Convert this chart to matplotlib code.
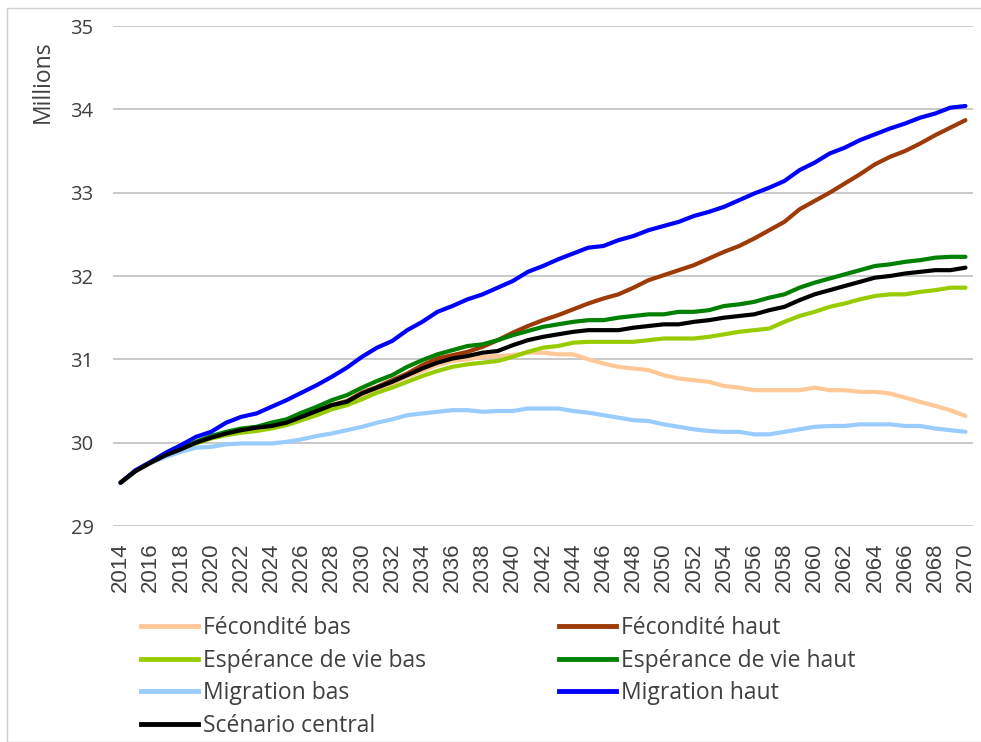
import matplotlib
matplotlib.use("Agg")
import matplotlib.pyplot as plt
from matplotlib.patches import Rectangle
from matplotlib.lines import Line2D

years = list(range(2014, 2071))

fecondite_bas = [29.52, 29.66, 29.76, 29.85, 29.92, 30.00, 30.06, 30.10, 30.14, 30.17,
                 30.19, 30.23, 30.30, 30.37, 30.43, 30.47, 30.57, 30.64, 30.71, 30.79,
                 30.86, 30.93, 30.98, 31.00, 31.03, 31.04, 31.05, 31.08, 31.08, 31.06,
                 31.06, 31.00, 30.95, 30.91, 30.89, 30.87, 30.81, 30.77, 30.75, 30.73,
                 30.68, 30.66, 30.63, 30.63, 30.63, 30.63, 30.66, 30.63, 30.63, 30.61,
                 30.61, 30.59, 30.54, 30.49, 30.44, 30.39, 30.32]
fecondite_haut = [29.52, 29.66, 29.76, 29.85, 29.92, 30.00, 30.06, 30.11, 30.15, 30.18,
                  30.20, 30.24, 30.31, 30.38, 30.45, 30.50, 30.60, 30.67, 30.75, 30.83,
                  30.93, 31.01, 31.05, 31.09, 31.15, 31.23, 31.32, 31.40, 31.47, 31.53,
                  31.60, 31.67, 31.73, 31.78, 31.86, 31.95, 32.01, 32.07, 32.13, 32.21,
                  32.29, 32.36, 32.45, 32.55, 32.65, 32.80, 32.90, 33.00, 33.11, 33.22,
                  33.34, 33.43, 33.50, 33.59, 33.69, 33.78, 33.87]
esperance_bas = [29.52, 29.66, 29.76, 29.84, 29.91, 29.99, 30.05, 30.09, 30.12, 30.14,
                 30.17, 30.21, 30.27, 30.33, 30.40, 30.45, 30.52, 30.60, 30.66, 30.73,
                 30.80, 30.86, 30.91, 30.94, 30.96, 30.98, 31.03, 31.09, 31.14, 31.16,
                 31.20, 31.21, 31.21, 31.21, 31.21, 31.23, 31.25, 31.25, 31.25, 31.27,
                 31.30, 31.33, 31.35, 31.37, 31.45, 31.52, 31.57, 31.63, 31.67, 31.72,
                 31.76, 31.78, 31.78, 31.81, 31.83, 31.86, 31.86]
esperance_haut = [29.52, 29.66, 29.77, 29.86, 29.93, 30.01, 30.08, 30.13, 30.17, 30.19,
                  30.24, 30.28, 30.36, 30.43, 30.51, 30.57, 30.66, 30.74, 30.81, 30.91,
                  30.99, 31.06, 31.11, 31.16, 31.18, 31.23, 31.29, 31.34, 31.39, 31.42,
                  31.45, 31.47, 31.47, 31.50, 31.52, 31.54, 31.54, 31.57, 31.57, 31.59,
                  31.64, 31.66, 31.69, 31.74, 31.78, 31.86, 31.92, 31.97, 32.02, 32.07,
                  32.12, 32.14, 32.17, 32.19, 32.22, 32.23, 32.23]
migration_bas = [29.52, 29.66, 29.76, 29.83, 29.89, 29.94, 29.95, 29.98, 29.99, 29.99,
                 29.99, 30.01, 30.04, 30.08, 30.11, 30.15, 30.19, 30.24, 30.28, 30.33,
                 30.35, 30.37, 30.39, 30.39, 30.37, 30.38, 30.38, 30.41, 30.41, 30.41,
                 30.38, 30.36, 30.33, 30.30, 30.27, 30.26, 30.22, 30.19, 30.16, 30.14,
                 30.13, 30.13, 30.10, 30.10, 30.13, 30.16, 30.19, 30.20, 30.20, 30.22,
                 30.22, 30.22, 30.20, 30.20, 30.17, 30.15, 30.13]
migration_haut = [29.52, 29.67, 29.77, 29.88, 29.97, 30.07, 30.13, 30.24, 30.31, 30.35,
                  30.43, 30.51, 30.60, 30.69, 30.79, 30.90, 31.03, 31.14, 31.22, 31.35,
                  31.45, 31.57, 31.64, 31.72, 31.78, 31.86, 31.94, 32.05, 32.12, 32.20,
                  32.27, 32.34, 32.36, 32.43, 32.48, 32.55, 32.60, 32.65, 32.72, 32.77,
                  32.83, 32.91, 32.99, 33.06, 33.14, 33.27, 33.36, 33.47, 33.54, 33.63,
                  33.70, 33.77, 33.83, 33.90, 33.95, 34.02, 34.04]
scenario_central = [29.52, 29.66, 29.76, 29.85, 29.92, 30.00, 30.06, 30.11, 30.15, 30.18,
                    30.20, 30.24, 30.31, 30.38, 30.45, 30.49, 30.59, 30.66, 30.73, 30.81,
                    30.89, 30.96, 31.01, 31.04, 31.08, 31.10, 31.17, 31.23, 31.27, 31.30,
                    31.33, 31.35, 31.35, 31.35, 31.38, 31.40, 31.42, 31.42, 31.45, 31.47,
                    31.50, 31.52, 31.54, 31.59, 31.63, 31.71, 31.78, 31.83, 31.88, 31.93,
                    31.98, 32.00, 32.03, 32.05, 32.07, 32.07, 32.10]

labels = ["Fécondité bas", "Fécondité haut", "Espérance de vie bas", "Espérance de vie haut",
          "Migration bas", "Migration haut", "Scénario central"]
series = [fecondite_bas, fecondite_haut, esperance_bas, esperance_haut,
          migration_bas, migration_haut, scenario_central]
colors = ["#FFC896", "#9E3A06", "#99CC00", "#008000", "#99CCFF", "#0000FF", "#000000"]
y_ticks = [29, 30, 31, 32, 33, 34, 35]
x_ticks = list(range(2014, 2071, 2))

W, H = 981, 742
fig = plt.figure(figsize=(W / 100, H / 100), dpi=100)
FONT = ["Open Sans", "DejaVu Sans"]

# outer border
fig.patches.append(Rectangle((7 / W, 0), 1.2, 1 - 8 / H, transform=fig.transFigure,
                             fill=False, edgecolor="#D0D0D0", linewidth=1.0))

ax = fig.add_axes([113 / W, (H - 526) / H, (973 - 113) / W, 500 / H])
for vals, col, lab in zip(series, colors, labels):
    ax.plot(years, vals, color=col, lw=3.0, label=lab, solid_capstyle="round",
            solid_joinstyle="round")

ax.set_xlim(2013.5, 2070.5)
ax.set_ylim(29, 35)
ax.set_yticks(y_ticks)
ax.set_xticks(x_ticks)
ax.set_xticklabels([str(x) for x in x_ticks], rotation=90, fontsize=16,
                   family=["Liberation Sans", "DejaVu Sans"], color="#404040")
ax.set_yticklabels([str(y) for y in y_ticks], fontsize=14.5, family=FONT, color="#404040")
ax.tick_params(axis="both", length=0)
ax.tick_params(axis="y", pad=14)
ax.tick_params(axis="x", pad=12)
ax.grid(axis="y", color="#C0C0C0", lw=1.2)
ax.set_axisbelow(True)
for s in ax.spines.values():
    s.set_visible(False)

fig.text(43 / W, 1 - 82 / H, "Millions", rotation=90, ha="center", va="center",
         fontsize=16.5, family=FONT, color="#404040")

leg_kw = dict(frameon=False, loc="upper left", handlelength=2.5, handletextpad=0.22,
              labelspacing=0.38, borderpad=0, borderaxespad=0,
              prop={"family": FONT, "size": 16.5})
col1 = [0, 2, 4, 6]
col2 = [1, 3, 5]

def handles(idx):
    return [Line2D([], [], color=colors[i], lw=3.5) for i in idx], [labels[i] for i in idx]

h1, l1 = handles(col1)
leg1 = fig.legend(h1, l1, bbox_to_anchor=(141 / W, 1 - 616 / H), **leg_kw)
for t in leg1.get_texts():
    t.set_color("#404040")
h2, l2 = handles(col2)
leg2 = fig.legend(h2, l2, bbox_to_anchor=(559 / W, 1 - 616 / H), **leg_kw)
for t in leg2.get_texts():
    t.set_color("#404040")

fig.savefig("out.png", dpi=100, facecolor="white")
